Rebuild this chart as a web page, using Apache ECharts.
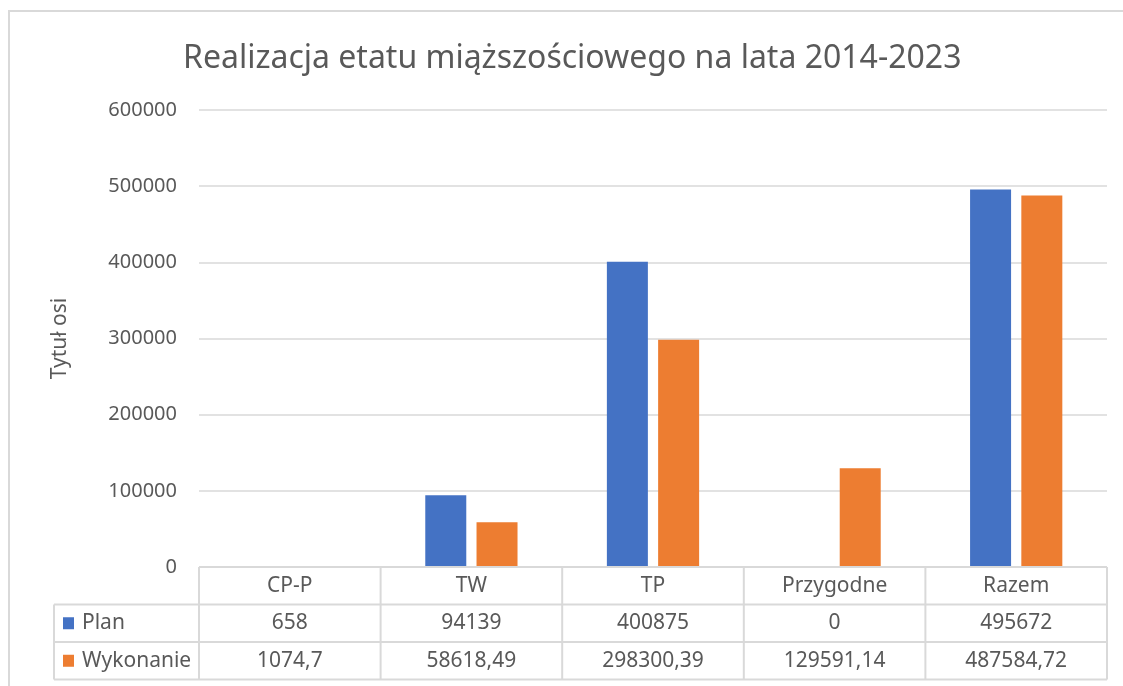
<!DOCTYPE html>
<html>
<head>
<meta charset="utf-8">
<script src="https://cdn.jsdelivr.net/npm/echarts@6/dist/echarts.min.js"></script>
<style>
  html, body { margin: 0; padding: 0; background: #fff; }
  #chart { width: 1123px; height: 686px; }
</style>
</head>
<body>
<div id="chart"></div>
<script>
// dane
var categories = ["CP-P", "TW", "TP", "Przygodne", "Razem"];
var planValues = [658, 94139, 400875, 0, 495672];
var wykonanieValues = [1074.7, 58618.49, 298300.39, 129591.14, 487584.72];
var seriesNames = ["Plan", "Wykonanie"];
var yTicks = [0, 100000, 200000, 300000, 400000, 500000, 600000];

var textColor = "#595959";
var lineColor = "#d9d9d9";
var colors = ["#4472c4", "#ed7d31"];
var font = "'Noto Sans', sans-serif";

var chart = echarts.init(document.getElementById("chart"));

// formatowanie jak w Excelu (przecinek dziesietny)
function fmt(v) {
  return String(v).replace(".", ",");
}

var option = {
  backgroundColor: "#fff",
  animation: false,
  color: colors,
  textStyle: { fontFamily: font },
  title: {
    text: "Realizacja etatu miąższościowego na lata 2014-2023",
    left: 178,
    top: 38,
    textStyle: { fontSize: 32, fontWeight: "normal", color: textColor, fontFamily: font },
  },
  grid: {
    left: 199,
    right: 16,
    top: 110,
    bottom: 119,
  },
  xAxis: {
    type: "category",
    data: categories,
    axisLine: { show: false },
    axisTick: { show: false },
    axisLabel: { show: false },
  },
  yAxis: {
    type: "value",
    min: yTicks[0],
    max: yTicks[yTicks.length - 1],
    interval: yTicks[1] - yTicks[0],
    name: "Tytuł osi",
    nameLocation: "middle",
    nameRotate: 90,
    nameGap: 128,
    nameTextStyle: { fontSize: 21, color: textColor, fontFamily: font },
    axisLine: { show: false },
    axisTick: { show: false },
    axisLabel: {
      fontSize: 20,
      color: textColor,
      margin: 22,
      fontFamily: font,
      formatter: function (v) { return String(v); },
    },
    splitLine: { lineStyle: { color: lineColor, width: 1.5 } },
  },
  series: [
    {
      name: seriesNames[0],
      type: "bar",
      data: planValues,
      barWidth: 41,
      barGap: "25%",
    },
    {
      name: seriesNames[1],
      type: "bar",
      data: wykonanieValues,
      barWidth: 41,
      barGap: "25%",
    },
  ],
};

chart.setOption(option);

// tabela danych pod wykresem
function buildTable() {
  var rowTop = 567;
  var rowH = 37.5;
  var labelLeft = 54;
  var gridLeft = 199;
  var gridRight = 1107;
  var band = (gridRight - gridLeft) / categories.length;
  var els = [];

  // ramka calego wykresu
  els.push({
    type: "rect",
    shape: { x: 9, y: 11, width: 1130, height: 700 },
    style: { fill: null, stroke: lineColor, lineWidth: 2 },
    silent: true,
  });

  function hline(x1, x2, y) {
    els.push({
      type: "line",
      z: 100,
      shape: { x1: x1, y1: y, x2: x2, y2: y },
      style: { stroke: lineColor, lineWidth: 2 },
    });
  }
  function vline(x, y1, y2) {
    els.push({
      type: "line",
      z: 100,
      shape: { x1: x, y1: y1, x2: x, y2: y2 },
      style: { stroke: lineColor, lineWidth: 2 },
    });
  }
  function text(str, x, y, align) {
    els.push({
      type: "text",
      x: x,
      y: y,
      style: {
        text: str,
        fill: textColor,
        font: "21px " + font,
        align: align || "center",
        verticalAlign: "middle",
      },
    });
  }

  hline(gridLeft, gridRight, rowTop);
  hline(labelLeft, gridRight, rowTop + rowH);
  hline(labelLeft, gridRight, rowTop + 2 * rowH);
  hline(labelLeft, gridRight, rowTop + 3 * rowH);
  vline(labelLeft, rowTop + rowH, rowTop + 3 * rowH);

  categories.forEach(function (c, i) {
    var cx = chart.convertToPixel({ xAxisIndex: 0 }, i);
    vline(cx - band / 2, rowTop, rowTop + 3 * rowH);
    if (i === categories.length - 1) vline(cx + band / 2, rowTop, rowTop + 3 * rowH);
    text(c, cx, rowTop + rowH / 2);
    text(fmt(planValues[i]), cx, rowTop + rowH * 1.5);
    text(fmt(wykonanieValues[i]), cx, rowTop + rowH * 2.5);
  });

  // opisy wierszy z kolorowym kwadratem
  [planValues, wykonanieValues].forEach(function (arr, r) {
    var cy = rowTop + rowH * (r + 1.5);
    els.push({
      type: "rect",
      shape: { x: 63, y: cy - 6, width: 11, height: 12 },
      style: { fill: colors[r] },
    });
    text(seriesNames[r], 82, cy, "left");
  });

  chart.setOption({ graphic: { elements: els } });
}

buildTable();

window.addEventListener("resize", function () {
  chart.resize();
});
</script>
</body>
</html>
